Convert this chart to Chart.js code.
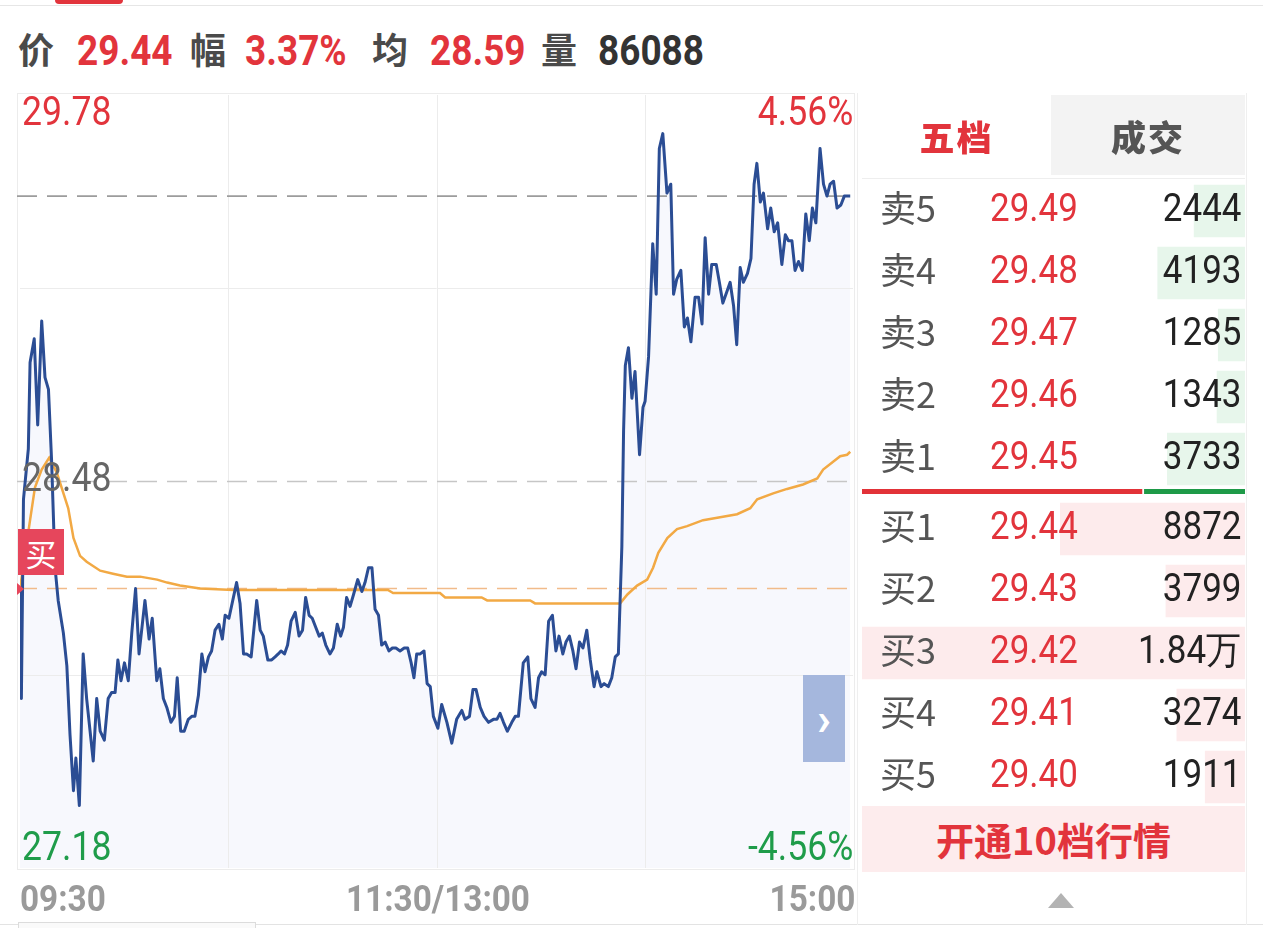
<!DOCTYPE html>
<html><head><meta charset="utf-8">
<script src="https://cdn.jsdelivr.net/npm/chart.js@4.4.1/dist/chart.umd.min.js"></script>
<style>
html,body{margin:0;padding:0;background:#fff;}
#root{position:relative;width:1263px;height:928px;overflow:hidden;background:#fff;}
.a{position:absolute;white-space:nowrap;line-height:1;}
.n{font-family:Roboto,"Noto Sans",sans-serif;}
.c{font-family:"Noto Sans CJK SC",sans-serif;}
.sl{display:inline-block;transform-origin:left center;}
.sr{display:inline-block;transform-origin:right center;}
canvas{position:absolute;display:block;}
</style></head><body><div id="root">
<canvas id="main" width="860" height="790" style="left:0;top:90px;width:860px;height:790px"></canvas>
<canvas id="sell" width="383" height="310" style="left:862px;top:180px;width:383px;height:310px"></canvas>
<canvas id="ratio" width="383" height="5" style="left:862px;top:489px;width:383px;height:5px"></canvas>
<canvas id="buy" width="383" height="310" style="left:862px;top:498px;width:383px;height:310px"></canvas>
</div>
<script>
// ---------- data ----------
const header = {price:'29.44', change:'3.37%', avg:'28.59', volume:'86088'};
const yTickLabels = ['29.78','28.48','27.18'];
const pctLabels = ['4.56%','-4.56%'];
const xTickLabels = ['09:30','11:30/13:00','15:00'];
const yMin = 27.18, yMax = 29.78, prevClose = 28.48, lastPrice = 29.44, buyPrice = 28.12;
const gridPrices = [29.13, 27.83];
const gridMinutes = [60, 120, 180];

const priceMinutes = [0,0.4,1.0,2.4,2.9,4.1,5.1,6.25,7.2,8.2,9.1,10.1,11.0,12.5,13.5,14.4,15.4,16.1,17.1,18.2,19.2,21.1,22.1,23.1,24.3,25.4,26.4,27.4,28.2,29.1,30.1,31.2,32.2,33.3,34.3,36.0,37.2,38.1,39.4,40.3,41.3,42.3,43.5,44.5,45.3,46.3,47.3,48.5,49.5,50.4,51.4,52.4,53.3,54.3,55.2,56.2,57.3,58.3,59.1,60.2,62.4,63.4,64.4,65.3,66.6,68.2,69.2,70.1,71.4,72.5,73.5,74.4,75.2,76.2,77.1,78.1,79.3,80.4,81.4,82.3,83.3,84.2,85.2,86.2,87.1,88.1,89.3,90.3,91.4,92.4,93.2,94.1,95.1,96.1,97.3,98.5,99.4,100.4,101.4,102.3,103.3,104.2,105.2,106.3,107.3,108.3,109.5,110.7,111.7,112.7,113.5,114.3,115.3,116.4,117.3,118.2,119.1,120.4,121.5,123.0,124.4,125.8,127.3,128.2,129.5,130.5,131.4,132.6,133.7,135.0,136.4,137.4,138.3,139.3,140.4,141.7,142.7,143.6,145.0,146.3,147.2,148.4,149.4,150.3,151.3,152.3,153.4,154.4,155.3,156.4,157.3,158.3,159.3,160.2,161.2,162.2,163.3,164.3,165.4,166.2,167.4,168.3,169.5,170.5,171.5,172.4,173.4,173.9,174.4,175.3,176.3,177.2,178.5,179.5,180.1,181.1,182.3,183.3,184.2,185.2,186.4,187.5,188.3,189.2,190.4,191.4,192.3,193.3,194.5,195.5,196.5,197.4,198.4,199.3,200.6,201.5,202.5,203.7,204.6,205.6,206.5,207.5,208.4,209.6,210.6,211.5,212.3,213.3,214.2,215.4,216.3,217.3,218.3,219.5,220.5,221.4,222.4,223.3,224.3,225.4,226.4,227.4,228.3,229.3,230.5,231.5,232.5,233.4,234.4,235.4,236.5,237.5,239.2];
const priceValues = [28.12,27.75,28.42,28.59,28.88,28.96,28.67,29.02,28.83,28.79,28.55,28.19,28.08,27.97,27.86,27.63,27.44,27.55,27.39,27.90,27.75,27.54,27.75,27.64,27.61,27.75,27.77,27.77,27.88,27.81,27.87,27.81,27.97,28.12,27.90,28.08,27.95,28.02,27.81,27.85,27.75,27.72,27.67,27.69,27.82,27.64,27.64,27.68,27.69,27.69,27.76,27.90,27.84,27.89,27.91,27.98,28.00,27.95,28.03,28.02,28.14,28.07,27.90,27.90,27.89,28.08,27.98,27.96,27.88,27.88,27.89,27.90,27.91,27.90,27.93,28.01,28.04,27.96,27.98,28.09,28.03,28.02,27.99,27.96,27.97,27.93,27.90,27.92,28.00,27.96,27.99,28.09,28.06,28.10,28.15,28.11,28.14,28.19,28.19,28.05,28.03,27.93,27.94,27.91,27.92,27.92,27.91,27.92,27.92,27.87,27.82,27.90,27.90,27.91,27.80,27.79,27.69,27.65,27.73,27.67,27.60,27.68,27.71,27.68,27.69,27.78,27.78,27.72,27.69,27.67,27.68,27.68,27.70,27.67,27.64,27.67,27.69,27.69,27.87,27.89,27.75,27.72,27.82,27.84,27.83,28.01,28.03,27.91,27.96,27.90,27.94,27.96,27.91,27.85,27.94,27.92,27.98,27.88,27.79,27.84,27.79,27.80,27.79,27.82,27.89,27.90,28.26,28.65,28.87,28.93,28.76,28.85,28.57,28.73,28.75,28.90,29.28,29.11,29.60,29.65,29.45,29.48,29.11,29.16,29.19,29.00,29.03,28.95,29.10,29.10,29.01,29.30,29.11,29.21,29.21,29.15,29.08,29.12,29.15,29.07,28.94,29.20,29.15,29.18,29.23,29.48,29.55,29.42,29.45,29.33,29.40,29.32,29.35,29.21,29.31,29.29,29.29,29.19,29.22,29.19,29.38,29.29,29.40,29.35,29.60,29.48,29.44,29.48,29.49,29.40,29.41,29.44,29.44];

const avgMinutes = [0,2.9,4.3,6.25,8.4,10.6,13.9,15.4,17.3,19.2,23.1,26.8,30.8,34.6,39.5,42.4,46.1,51.9,61.4,106,107.5,121,122.5,133,134.6,147,148.4,172.9,175,177.8,180.7,182.4,183.9,186.5,189.3,192.2,196.8,201.7,206.6,210.4,212.4,217,221,225.6,229.7,231.4,236.3,238.3,239.2];
const avgValues = [28.12,28.35,28.46,28.52,28.56,28.51,28.39,28.29,28.23,28.21,28.18,28.17,28.16,28.16,28.15,28.14,28.13,28.12,28.115,28.115,28.105,28.105,28.09,28.09,28.08,28.08,28.07,28.07,28.10,28.13,28.15,28.19,28.24,28.29,28.32,28.33,28.35,28.36,28.37,28.39,28.42,28.44,28.455,28.47,28.49,28.52,28.565,28.57,28.58];

const sellLabels = ['卖5','卖4','卖3','卖2','卖1'];
const sellPrices = ['29.49','29.48','29.47','29.46','29.45'];
const sellVolText = ['2444','4193','1285','1343','3733'];
const sellVol = [2444,4193,1285,1343,3733];
const buyLabels = ['买1','买2','买3','买4','买5'];
const buyPrices = ['29.44','29.43','29.42','29.41','29.40'];
const buyVolText = ['8872','3799','1.84万','3274','1911'];
const buyVol = [8872,3799,18400,3274,1911];

// ---------- colors ----------
const RED = '#e2343c', GREEN = '#1f9c4a';
const root = document.getElementById('root');
function mk(html, css, cls){ const d=document.createElement('div'); d.className='a '+(cls||''); d.style.cssText=css; d.innerHTML=html; root.appendChild(d); return d; }

// ---------- static decorations ----------
mk('', 'left:55px;top:0;width:68px;height:4px;background:'+RED+';border-radius:0 0 5px 5px;');
mk('', 'left:0;top:5px;width:1263px;height:1px;background:#e6e6e6;');
mk('', 'left:0;top:924px;width:1263px;height:1px;background:#e3e3e3;');
mk('', 'left:18px;top:922px;width:236px;height:8px;border:1px solid #dcdcdc;border-bottom:none;background:#fafafa;');
mk('', 'left:857px;top:93px;width:1px;height:832px;background:#efefef;');
mk('', 'left:1246px;top:93px;width:1px;height:832px;background:#efefef;');

// ---------- header ----------
const hc = 'font-size:36px;font-weight:700;color:#4a4a4a;top:30px;';
const hn = 'font-size:42px;font-weight:700;top:30px;';
mk('价', hc+'left:18px;', 'c');
mk('<span class="sl" style="transform:scaleX(0.88)">'+header.price+'</span>', hn+'left:77px;color:'+RED, 'n');
mk('幅', hc+'left:190px;', 'c');
mk('<span class="sl" style="transform:scaleX(0.88)">'+header.change+'</span>', hn+'left:245px;color:'+RED, 'n');
mk('均', hc+'left:372px;', 'c');
mk('<span class="sl" style="transform:scaleX(0.88)">'+header.avg+'</span>', hn+'left:430px;color:'+RED, 'n');
mk('量', hc+'left:541px;', 'c');
mk('<span class="sl" style="transform:scaleX(0.88)">'+header.volume+'</span>', hn+'left:598px;color:#333', 'n');

// ---------- main chart ----------
const pricePts = priceMinutes.map((m,i)=>({x:m, y:priceValues[i]}));
const avgPts = avgMinutes.map((m,i)=>({x:m, y:avgValues[i]}));
const refLines = [
  {v:lastPrice, color:'#9c9c9c'},
  {v:prevClose, color:'#c6c6c6'},
  {v:buyPrice, color:'#f1bb8a'}
];
const guides = {
  id:'guides',
  beforeDatasetsDraw(ch){
    const {ctx, chartArea:a, scales:{x,y}} = ch;
    ctx.save();
    ctx.lineWidth = 1; ctx.strokeStyle = '#ececec';
    ctx.strokeRect(a.left-2.5, a.top-1.5, a.right-a.left+4, a.bottom-a.top+3);
    ctx.beginPath();
    gridPrices.forEach(v=>{ const py=Math.round(y.getPixelForValue(v))+0.5; ctx.moveTo(a.left,py); ctx.lineTo(a.right,py); });
    gridMinutes.forEach(m=>{ const px=Math.round(x.getPixelForValue(m))+0.5; ctx.moveTo(px,a.top); ctx.lineTo(px,a.bottom); });
    ctx.stroke();
    ctx.setLineDash([20,10]); ctx.lineWidth = 1.6;
    refLines.forEach(r=>{
      const py = y.getPixelForValue(r.v);
      ctx.strokeStyle = r.color; ctx.beginPath(); ctx.moveTo(a.left-3,py); ctx.lineTo(a.right,py); ctx.stroke();
    });
    ctx.restore();
  }
};
new Chart(document.getElementById('main'), {
  type:'line',
  data:{datasets:[
    {data:pricePts, borderColor:'#2b4d94', borderWidth:3, pointRadius:0, tension:0, borderJoinStyle:'round',
     fill:'start', backgroundColor:'rgba(60,95,200,0.045)'},
    {data:avgPts, borderColor:'#f2a944', borderWidth:2.5, pointRadius:0, tension:0, fill:false}
  ]},
  options:{
    responsive:false, animation:false, devicePixelRatio:1,
    layout:{padding:{left:20,right:7,top:5,bottom:12}},
    scales:{
      x:{type:'linear', min:0, max:240, display:false},
      y:{type:'linear', min:yMin, max:yMax, display:false}
    },
    plugins:{legend:{display:false}, tooltip:{enabled:false}, filler:{drawTime:'beforeDatasetsDraw'}}
  },
  plugins:[guides]
});

// axis labels (text)
const yl = 'font-size:40px;';
mk('<span class="sl" style="transform:scaleX(0.89)">'+yTickLabels[0]+'</span>', yl+'left:22px;top:92px;color:'+RED, 'n');
mk('<span class="sr" style="transform:scaleX(0.89)">'+pctLabels[0]+'</span>', yl+'right:410px;top:92px;color:'+RED, 'n');
mk('<span class="sl" style="transform:scaleX(0.89)">'+yTickLabels[1]+'</span>', yl+'left:22px;top:458px;color:#666', 'n');
mk('<span class="sl" style="transform:scaleX(0.89)">'+yTickLabels[2]+'</span>', yl+'left:22px;top:827px;color:'+GREEN, 'n');
mk('<span class="sr" style="transform:scaleX(0.89)">'+pctLabels[1]+'</span>', yl+'right:410px;top:827px;color:'+GREEN, 'n');
const xl = 'font-size:37px;font-weight:700;color:#9a9a9a;top:880px;';
mk('<span class="sl" style="transform:scaleX(0.9)">'+xTickLabels[0]+'</span>', xl+'left:20px;', 'n');
mk('<span style="display:inline-block;transform:translateX(-50%) scaleX(0.9);transform-origin:center">'+xTickLabels[1]+'</span>', xl+'left:438px;', 'n');
mk('<span class="sr" style="transform:scaleX(0.9)">'+xTickLabels[2]+'</span>', xl+'right:408px;', 'n');

// markers
mk('买', 'left:18px;top:529px;width:46px;height:46px;background:#e6465c;color:#fff;font-size:31px;display:flex;align-items:center;justify-content:center;', 'c');
mk('', 'left:17px;top:583px;width:0;height:0;border-left:7px solid #e6465c;border-top:6px solid transparent;border-bottom:6px solid transparent;');
mk('›', 'left:803px;top:675px;width:42px;height:87px;background:#a5b7dd;color:#fff;font-size:46px;font-weight:700;display:flex;align-items:center;justify-content:center;', 'n');

// ---------- order book ----------
const maxVol = Math.max(...sellVol, ...buyVol);
function bookChart(id, labels, vols, color){
  return new Chart(document.getElementById(id), {
    type:'bar',
    data:{labels:labels, datasets:[{data:vols, backgroundColor:color, barThickness:52, borderWidth:0}]},
    options:{
      indexAxis:'y', responsive:false, animation:false, devicePixelRatio:1,
      layout:{padding:0},
      scales:{x:{min:0, max:maxVol, reverse:true, display:false}, y:{display:false}},
      plugins:{legend:{display:false}, tooltip:{enabled:false}}
    }
  });
}
const sellChart = bookChart('sell', sellLabels, sellVol, '#e7f6eb');
const buyChart = bookChart('buy', buyLabels, buyVol, '#fdebec');

const sellTotal = sellVol.reduce((s,v)=>s+v,0), buyTotal = buyVol.reduce((s,v)=>s+v,0);
new Chart(document.getElementById('ratio'), {
  type:'bar',
  data:{labels:[''], datasets:[
    {data:[buyTotal], backgroundColor:'#e23238', borderColor:'#fff', borderWidth:{right:2}, borderSkipped:false, barPercentage:1, categoryPercentage:1},
    {data:[sellTotal], backgroundColor:'#1e9a48', borderWidth:0, barPercentage:1, categoryPercentage:1}
  ]},
  options:{
    indexAxis:'y', responsive:false, animation:false, devicePixelRatio:1, layout:{padding:0},
    scales:{x:{stacked:true, min:0, max:buyTotal+sellTotal, display:false}, y:{stacked:true, display:false}},
    plugins:{legend:{display:false}, tooltip:{enabled:false}}
  }
});

function rows(chart, top, labels, prices, vols){
  const meta = chart.getDatasetMeta(0);
  labels.forEach((lab,i)=>{
    const cy = top + meta.data[i].y - 3;
    mk(lab, 'left:880px;top:'+(cy-20)+'px;font-size:36px;color:#555;', 'c');
    mk('<span class="sl" style="transform:scaleX(0.92)">'+prices[i]+'</span>', 'left:990px;top:'+(cy-19)+'px;font-size:38px;color:'+RED, 'n');
    mk('<span class="sr" style="transform:scaleX(0.92)">'+vols[i]+'</span>', 'right:22px;top:'+(cy-19)+'px;font-size:38px;color:#222', 'n');
  });
}
rows(sellChart, 180, sellLabels, sellPrices, sellVolText);
rows(buyChart, 498, buyLabels, buyPrices, buyVolText);

// tabs
mk('', 'left:1051px;top:95px;width:194px;height:80px;background:#f3f3f3;');
mk('', 'left:862px;top:178px;width:383px;height:1px;background:#eeeeee;');
mk('五档', 'left:862px;top:95px;width:189px;height:80px;display:flex;align-items:center;justify-content:center;font-size:35px;font-weight:900;color:'+RED+';letter-spacing:2px;', 'c');
mk('成交', 'left:1051px;top:95px;width:194px;height:80px;display:flex;align-items:center;justify-content:center;font-size:35px;font-weight:900;color:#555;letter-spacing:2px;', 'c');
// 10-level button
mk('开通10档行情', 'left:862px;top:806px;width:383px;height:66px;background:#fdeced;display:flex;align-items:center;justify-content:center;font-size:38px;font-weight:700;color:'+RED+';', 'c');
mk('', 'left:1048px;top:893px;width:0;height:0;border-bottom:15px solid #b3b3b3;border-left:13px solid transparent;border-right:13px solid transparent;');
</script>
</body></html>
